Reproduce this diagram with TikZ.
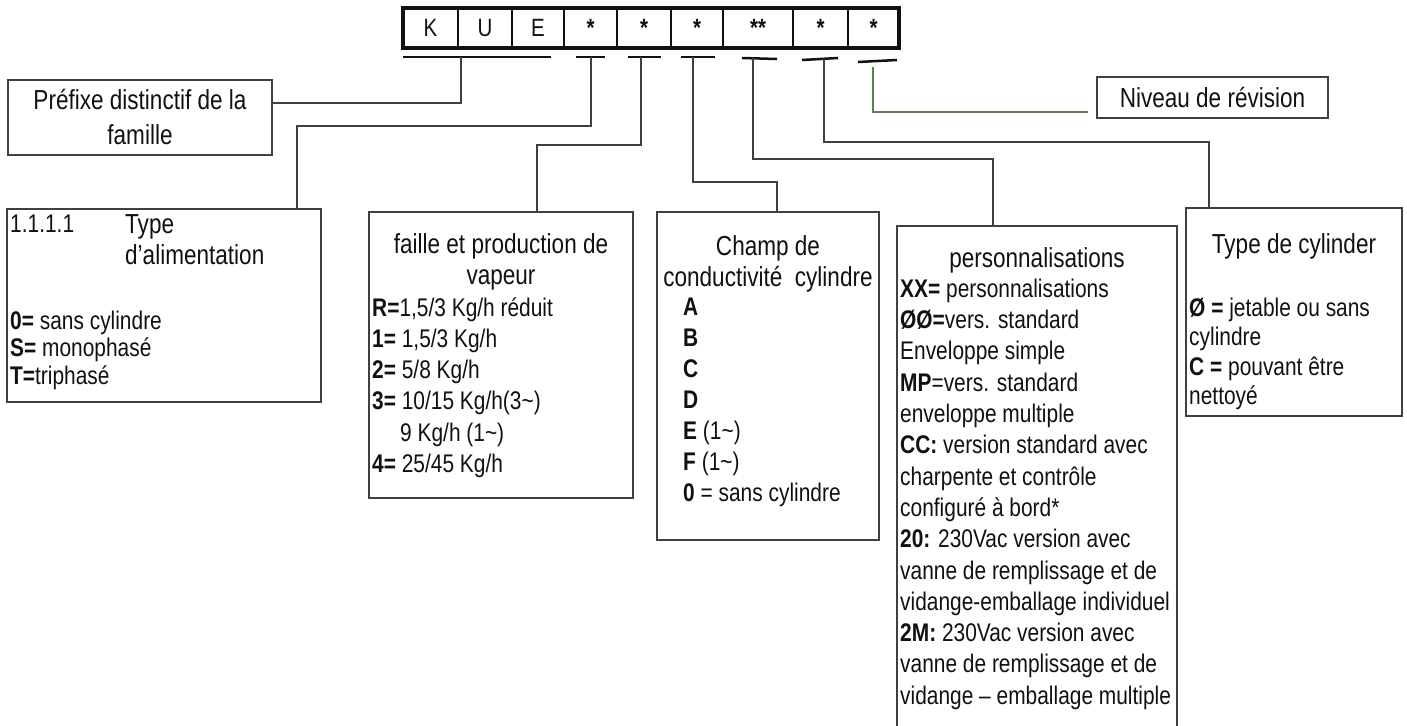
\documentclass[tikz,border=0pt]{standalone}
\usepackage{fontspec}
\setmainfont{Liberation Sans}[FakeStretch=0.82]
\usetikzlibrary{positioning,fit,calc}
\definecolor{kink}{HTML}{111111}
\definecolor{kline}{HTML}{404040}
\definecolor{kgrn}{HTML}{5E7F55}
\newcommand{\tfont}{\fontsize{27.5}{31}\selectfont}
\newcommand{\bfont}{\fontsize{25.5}{31}\selectfont}
\tikzset{
  cell/.style  ={draw=kink, line width=2pt, minimum height=40pt, inner sep=0pt, outer sep=0pt,
                 font=\fontsize{25}{30}\selectfont, text=kink},
  ubar/.style  ={draw=kink, line width=2.5pt},
  pbox/.style  ={draw=kline, line width=1.1pt, anchor=north west, inner sep=0pt, outer sep=0pt},
  htxt/.style  ={anchor=north, align=center, inner sep=0pt, font=\tfont, text=kink},
  btxt/.style  ={anchor=north west, align=left, inner sep=0pt, font=\bfont, text=kink},
  link/.style  ={draw=kline, line width=1.1pt},
  glink/.style ={draw=kgrn, line width=1.1pt},
}

\begin{document}
\begin{tikzpicture}[x=1pt, y=-1pt, node distance=0pt]
  \useasboundingbox (0,0) rectangle (1407,725);
  % code cells
  \node[cell, minimum width=55pt, anchor=north west] (c1) at (403,8) {K};
  \node[cell, minimum width=54pt, right=of c1] (c2) {U};
  \node[cell, minimum width=52pt, right=of c2] (c3) {E};
  \node[cell, minimum width=53pt, right=of c3] (c4) {\textbf{*}};
  \node[cell, minimum width=54pt, right=of c4] (c5) {\textbf{*}};
  \node[cell, minimum width=52pt, right=of c5] (c6) {\textbf{*}};
  \node[cell, minimum width=70pt, right=of c6] (c7) {\textbf{**}};
  \node[cell, minimum width=55pt, right=of c7] (c8) {\textbf{*}};
  \node[cell, minimum width=51pt, right=of c8] (c9) {\textbf{*}};
  \node[fit=(c1)(c9), draw=kink, line width=3.3pt, inner sep=0pt] (code) {};

  \draw[ubar] ([shift={(0,9)}]c1.south west) -- ([shift={(-13,9)}]c3.south east);
  \draw[ubar] ([shift={(12,9)}]c4.south west) -- ([shift={(-12,9)}]c4.south east);
  \draw[ubar] ([shift={(11,9)}]c5.south west) -- ([shift={(-10,9)}]c5.south east);
  \draw[ubar] ([shift={(10,9)}]c6.south west) -- ([shift={(-8,9)}]c6.south east);
  \draw[ubar] ([shift={(19,10)}]c7.south west) -- ([shift={(-16,11)}]c7.south east);
  \draw[ubar] ([shift={(9,12)}]c8.south west) -- ([shift={(-10,10)}]c8.south east);
  \draw[ubar] ([shift={(10,14)}]c9.south west) -- ([shift={(-2,12)}]c9.south east);

  % boxes
  \node[pbox, minimum width=264pt, minimum height=75pt, align=center,
        font=\fontsize{27.5}{35}\selectfont, text=kink] (pref) at (8,80) {Préfixe distinctif de la\\famille};
  \node[pbox, minimum width=231pt, minimum height=41pt, font=\tfont, text=kink] (niv) at (1097,77) {Niveau de révision};
  \node[pbox, minimum width=314pt, minimum height=193pt] (alim) at (7,209) {};
  \node[pbox, minimum width=264pt, minimum height=286pt] (faille) at (369,212) {};
  \node[pbox, minimum width=222pt, minimum height=328pt] (champ) at (657,212) {};
  \node[pbox, minimum width=280pt, minimum height=510pt] (perso) at (897,226) {};
  \node[pbox, minimum width=216pt, minimum height=208pt] (cyl) at (1186,208) {};

  % texts
  \node[btxt] (alimN) at ([shift={(3,1.4)}]alim.north west) {\strut 1.1.1.1};
  \node[btxt, font=\tfont] (alimH) at ([shift={(118,2.1)}]alim.north west) {\strut Type\\d’alimentation};
  \node[btxt, font=\fontsize{25.5}{27.5}\selectfont] (alimT) at ([shift={(3,100.85)}]alim.north west)
    {\strut\textbf{0=} sans cylindre\\\textbf{S=} monophasé\\\textbf{T=}triphasé};

  \node[htxt] (failleH) at ([shift={(0,20)}]faille.north) {\strut faille et production de\\vapeur};
  \node[btxt, font=\fontsize{25.5}{31.2}\selectfont] (failleT) at ([shift={(3,82.3)}]faille.north west)
    {\strut\textbf{R=}1,5/3 Kg/h réduit\\\textbf{1=} 1,5/3 Kg/h\\\textbf{2=} 5/8 Kg/h\\
     \textbf{3=} 10/15 Kg/h(3\textasciitilde)\\\hspace*{28pt}9 Kg/h (1\textasciitilde)\\\textbf{4=} 25/45 Kg/h};

  \node[htxt] (champH) at ([shift={(0,21.1)}]champ.north) {\strut Champ de\\conductivité\ \ cylindre};
  \node[btxt] (champT) at ([shift={(26,81.4)}]champ.north west)
    {\strut\textbf{A}\\\textbf{B}\\\textbf{C}\\\textbf{D}\\\textbf{E} (1\textasciitilde)\\\textbf{F} (1\textasciitilde)\\
     \textbf{0} = sans cylindre};

  \node[htxt] (persoH) at ([shift={(0,19.1)}]perso.north) {\strut personnalisations};
  \node[btxt, font=\fontsize{25.5}{31.3}\selectfont] (persoT) at ([shift={(3,49.2)}]perso.north west)
    {\strut\textbf{XX=} personnalisations\\\textbf{ØØ=}vers. standard\\Enveloppe simple\\
     \textbf{MP}=vers. standard\\enveloppe multiple\\\textbf{CC:} version standard avec\\
     charpente et contrôle\\configuré à bord*\\\textbf{20:} 230Vac version avec\\
     vanne de remplissage et de\\vidange-emballage individuel\\\textbf{2M:} 230Vac version avec\\
     vanne de remplissage et de\\vidange – emballage multiple};

  \node[htxt] (cylH) at ([shift={(0,23.1)}]cyl.north) {\strut Type de cylinder};
  \node[btxt, font=\fontsize{25.5}{29.5}\selectfont] (cylT) at ([shift={(3,87.45)}]cyl.north west)
    {\strut\textbf{Ø =} jetable ou sans\\cylindre\\\textbf{C =} pouvant être\\nettoyé};

  % connectors
  \draw[link] ([shift={(58,9)}]c1.south west) |- ([shift={(0,23)}]pref.north east);
  \draw[link] ([shift={(27,9)}]c4.south west) -- ++(0,69) -| ([shift={(-24,0)}]alim.north east);
  \draw[link] ([shift={(24,9)}]c5.south west) -- ++(0,88) -| ([shift={(36,0)}]faille.north);
  \draw[link] ([shift={(22,9)}]c6.south west) -- ++(0,125) -| ([shift={(9,0)}]champ.north);
  \draw[link] ([shift={(30,10)}]c7.south west) -- ++(0,101) -| ([shift={(-44,0)}]perso.north);
  \draw[link] ([shift={(31,11)}]c8.south west) -- ++(0,83) -| ([shift={(23,0)}]cyl.north west);
  \draw[glink] ([shift={(25,19)}]c9.south west) |- ([shift={(-9,-6)}]niv.south west);
\end{tikzpicture}
\end{document}
